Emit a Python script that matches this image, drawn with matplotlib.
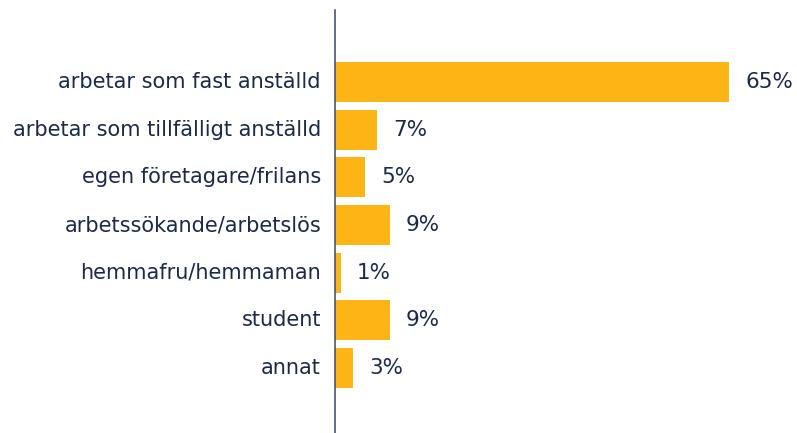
import matplotlib
matplotlib.use("Agg")
import matplotlib.pyplot as plt

categories = ["arbetar som fast anställd", "arbetar som tillfälligt anställd",
              "egen företagare/frilans", "arbetssökande/arbetslös",
              "hemmafru/hemmaman", "student", "annat"]
values = [65, 7, 5, 9, 1, 9, 3]
value_labels = ["65%", "7%", "5%", "9%", "1%", "9%", "3%"]

W, H = 797, 433
fig = plt.figure(figsize=(W/100, H/100), dpi=100)
ax = fig.add_axes([335/W, 0, (W-335)/W, (433-10)/H])

bar_color = "#FDB515"
text_color = "#1B2A4A"
ypos = list(range(len(categories)))
ax.barh(ypos, values, height=0.84, color=bar_color, edgecolor="none")
ax.set_ylim(6 + 1.36, -1.51)
ax.set_xlim(0, 76.2)

for y, v, lab in zip(ypos, values, value_labels):
    ax.annotate(lab, (v, y), xytext=(16, 0), textcoords="offset pixels",
                va="center", ha="left", fontsize=15.5, color=text_color)
for y, c in zip(ypos, categories):
    ax.annotate(c, (0, y), xytext=(-14, 0), textcoords="offset pixels",
                va="center", ha="right", fontsize=15, color=text_color,
                annotation_clip=False)

for s in ["top", "right", "bottom"]:
    ax.spines[s].set_visible(False)
ax.spines["left"].set_color("#4A5670")
ax.spines["left"].set_linewidth(1.2)
ax.set_xticks([])
ax.set_yticks([])

fig.savefig("out.png", dpi=100)
